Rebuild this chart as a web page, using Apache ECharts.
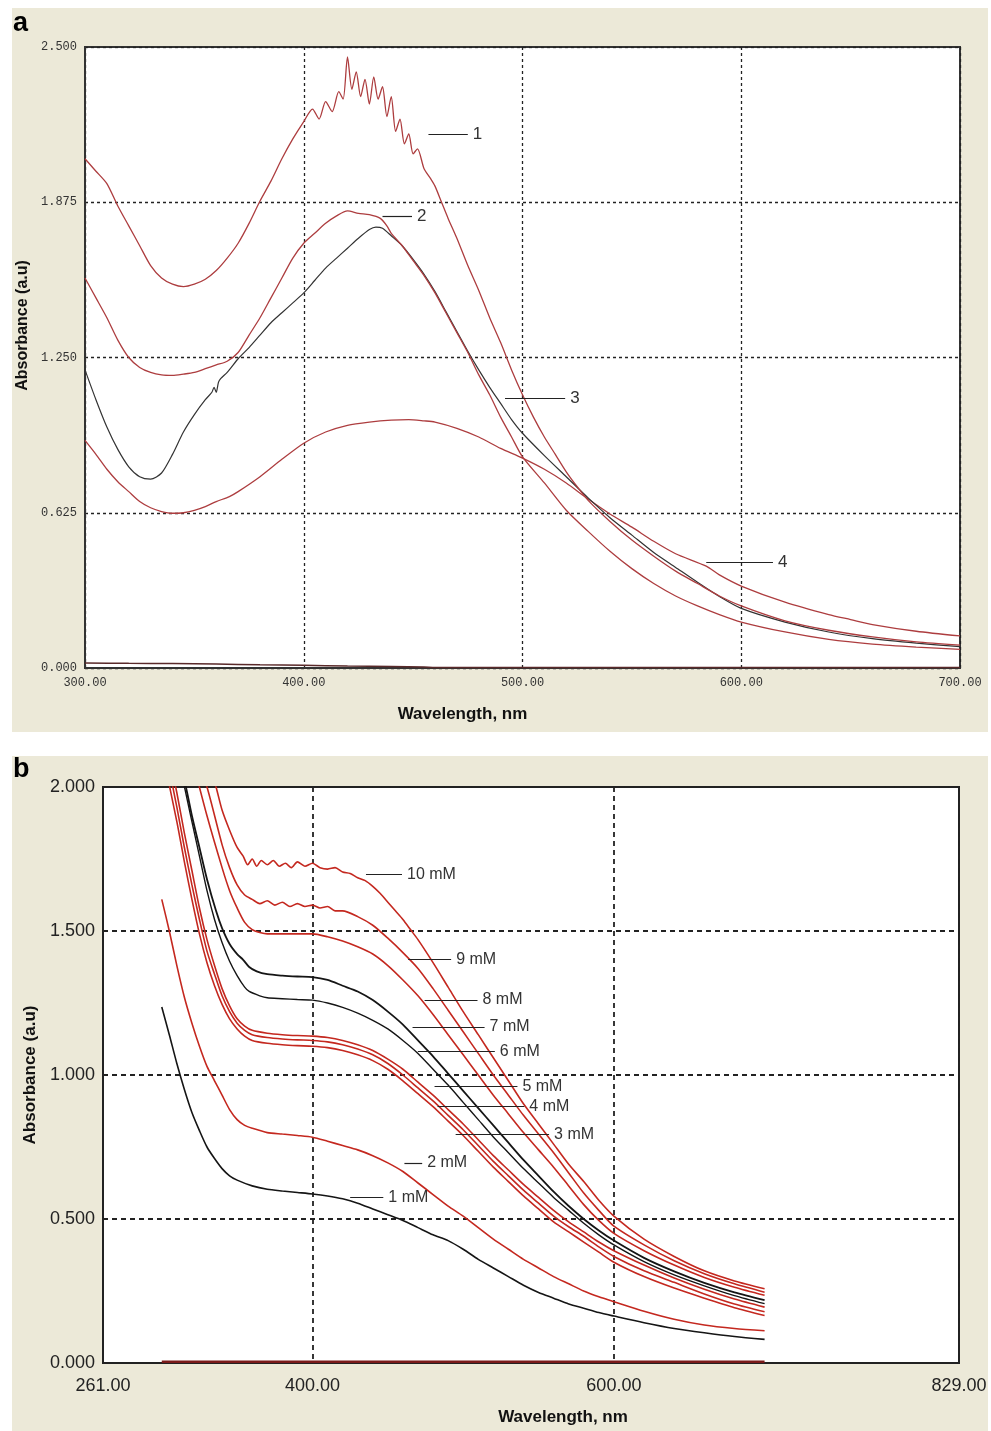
<!DOCTYPE html>
<html>
<head>
<meta charset="utf-8">
<script src="https://cdn.jsdelivr.net/npm/echarts@6.0.0/dist/echarts.min.js"></script>
<style>
  html, body { margin: 0; padding: 0; background: #fff; }
  #chart { width: 991px; height: 1431px; }
</style>
</head>
<body>
<div id="chart"></div>
<script>
// panel a : [wavelength nm, absorbance]
const aCurve1 = [[300,2.05],[305,2.0],[310,1.95],[315,1.86],[320,1.78],[325,1.70],[330,1.62],[335,1.57],[340,1.545],[345,1.535],[350,1.545],[355,1.565],[360,1.60],[365,1.65],[370,1.71],[375,1.79],[380,1.88],[385,1.96],[390,2.05],[395,2.13],[400,2.20],[404,2.25],[407,2.21],[410,2.28],[413,2.24],[416,2.32],[418,2.29],[420,2.46],[422,2.33],[424,2.40],[426,2.30],[428,2.37],[430,2.27],[432,2.38],[434,2.29],[436,2.34],[438,2.22],[440,2.30],[442,2.16],[444,2.21],[446,2.11],[448,2.15],[450,2.07],[452,2.09],[455,2.01],[458,1.97],[460,1.94],[463,1.875],[466,1.81],[470,1.73],[475,1.62],[480,1.52],[485,1.41],[490,1.31],[495,1.20],[500,1.10],[505,1.01],[510,0.93],[515,0.86],[520,0.79],[525,0.73],[530,0.675],[540,0.59],[550,0.515],[560,0.45],[570,0.39],[580,0.34],[590,0.29],[600,0.25],[620,0.19],[640,0.152],[660,0.125],[680,0.105],[700,0.092]];
const aCurve2 = [[300,1.57],[305,1.49],[310,1.41],[315,1.32],[320,1.25],[325,1.21],[330,1.19],[335,1.18],[340,1.178],[345,1.183],[350,1.19],[355,1.205],[360,1.22],[365,1.235],[370,1.27],[375,1.34],[380,1.41],[385,1.49],[390,1.57],[395,1.65],[400,1.71],[405,1.75],[410,1.79],[415,1.82],[420,1.84],[425,1.83],[430,1.825],[435,1.81],[438,1.78],[440,1.75],[445,1.70],[450,1.64],[455,1.58],[460,1.51],[465,1.43],[470,1.35],[475,1.27],[480,1.18],[485,1.10],[490,1.01],[495,0.93],[500,0.85],[510,0.745],[520,0.635],[530,0.55],[540,0.47],[550,0.40],[560,0.34],[570,0.29],[580,0.25],[590,0.215],[600,0.185],[620,0.145],[640,0.115],[660,0.096],[680,0.084],[700,0.075]];
const aCurve3 = [[300,1.20],[305,1.08],[310,0.97],[315,0.88],[320,0.81],[325,0.77],[330,0.76],[335,0.785],[340,0.86],[345,0.95],[350,1.02],[355,1.08],[358,1.11],[359,1.13],[360,1.11],[361,1.15],[362,1.165],[365,1.19],[370,1.245],[375,1.29],[380,1.34],[385,1.39],[390,1.43],[395,1.47],[400,1.51],[405,1.56],[410,1.61],[415,1.65],[420,1.69],[425,1.73],[430,1.765],[433,1.775],[436,1.77],[440,1.74],[445,1.70],[450,1.645],[455,1.585],[460,1.515],[465,1.435],[470,1.355],[475,1.275],[480,1.20],[485,1.13],[490,1.065],[495,1.00],[500,0.945],[510,0.855],[520,0.77],[530,0.685],[540,0.605],[550,0.535],[560,0.465],[570,0.405],[580,0.345],[590,0.288],[600,0.24],[620,0.185],[640,0.145],[660,0.118],[680,0.1],[700,0.086]];
const aCurve4 = [[300,0.916],[305,0.86],[310,0.80],[315,0.75],[320,0.71],[325,0.67],[330,0.645],[335,0.63],[340,0.623],[345,0.625],[350,0.635],[355,0.65],[360,0.67],[366,0.69],[370,0.71],[380,0.77],[390,0.84],[400,0.905],[410,0.95],[420,0.977],[430,0.99],[440,0.998],[448,1.0],[455,0.995],[460,0.99],[470,0.965],[480,0.93],[490,0.884],[500,0.845],[510,0.80],[520,0.745],[530,0.68],[540,0.62],[550,0.567],[560,0.51],[570,0.46],[584,0.41],[590,0.375],[600,0.33],[620,0.265],[640,0.215],[650,0.195],[660,0.175],[680,0.148],[700,0.129]];
const aBase = [[300,0.02],[320,0.019],[340,0.018],[360,0.016],[380,0.013],[400,0.011],[420,0.008],[440,0.006],[455,0.004],[460,0.002],[700,0.002]];

// panel b : one array per concentration
const b10 = [[300,2.7],[310,2.5],[320,2.28],[330,2.1],[336,2.0],[340,1.92],[345,1.85],[350,1.79],[354,1.76],[357,1.73],[360,1.75],[363,1.725],[366,1.745],[370,1.73],[374,1.745],[378,1.725],[382,1.735],[386,1.72],[390,1.74],[395,1.725],[400,1.735],[405,1.72],[410,1.715],[415,1.72],[420,1.705],[425,1.70],[430,1.685],[435,1.675],[440,1.655],[445,1.63],[450,1.60],[455,1.57],[460,1.54],[465,1.505],[470,1.47],[480,1.39],[490,1.305],[500,1.22],[510,1.14],[520,1.06],[530,0.98],[540,0.90],[550,0.83],[560,0.76],[570,0.69],[580,0.63],[590,0.565],[600,0.51],[620,0.43],[640,0.37],[660,0.32],[680,0.285],[700,0.258]];
const b9 = [[300,2.55],[310,2.35],[320,2.15],[330,2.0],[340,1.8],[345,1.72],[350,1.66],[355,1.625],[360,1.61],[365,1.595],[370,1.605],[375,1.59],[380,1.60],[385,1.585],[390,1.595],[395,1.585],[400,1.59],[405,1.58],[410,1.585],[415,1.57],[420,1.57],[430,1.55],[440,1.52],[450,1.475],[460,1.425],[470,1.37],[480,1.30],[490,1.225],[500,1.15],[510,1.075],[520,1.0],[530,0.93],[540,0.86],[550,0.795],[560,0.73],[570,0.66],[580,0.59],[590,0.53],[600,0.475],[620,0.41],[640,0.355],[660,0.31],[680,0.275],[700,0.246]];
const b8 = [[300,2.5],[310,2.3],[320,2.1],[330,1.9],[340,1.72],[345,1.64],[350,1.58],[355,1.53],[360,1.505],[365,1.495],[370,1.49],[380,1.49],[390,1.49],[400,1.49],[410,1.48],[420,1.465],[430,1.445],[440,1.42],[450,1.38],[460,1.33],[470,1.275],[480,1.21],[490,1.14],[500,1.07],[510,1.0],[520,0.93],[530,0.865],[540,0.80],[550,0.74],[560,0.68],[570,0.615],[580,0.55],[590,0.495],[600,0.45],[620,0.39],[640,0.34],[660,0.297],[680,0.263],[700,0.235]];
const b7 = [[300,2.38],[310,2.12],[316,2.0],[320,1.9],[325,1.79],[330,1.68],[336,1.57],[340,1.51],[345,1.455],[350,1.42],[354,1.40],[358,1.375],[363,1.36],[370,1.35],[380,1.345],[390,1.342],[400,1.34],[410,1.33],[420,1.31],[430,1.29],[440,1.26],[450,1.22],[460,1.175],[470,1.12],[480,1.065],[490,1.005],[500,0.945],[510,0.885],[520,0.825],[530,0.765],[540,0.705],[550,0.65],[560,0.595],[570,0.545],[580,0.50],[590,0.46],[600,0.425],[620,0.365],[640,0.318],[660,0.278],[680,0.245],[700,0.218]];
const b6 = [[300,2.32],[310,2.12],[320,1.88],[325,1.76],[330,1.64],[335,1.54],[340,1.46],[345,1.395],[350,1.345],[355,1.305],[358,1.29],[365,1.275],[370,1.268],[380,1.265],[390,1.262],[400,1.26],[410,1.25],[420,1.235],[430,1.215],[440,1.19],[450,1.16],[460,1.12],[470,1.075],[480,1.02],[490,0.965],[500,0.905],[510,0.845],[520,0.785],[530,0.73],[540,0.675],[550,0.625],[560,0.575],[570,0.53],[580,0.485],[590,0.445],[600,0.41],[620,0.352],[640,0.306],[660,0.268],[680,0.234],[700,0.206]];
const b5 = [[300,2.24],[310,1.98],[315,1.84],[320,1.71],[325,1.58],[330,1.47],[335,1.38],[340,1.30],[345,1.24],[350,1.195],[355,1.17],[360,1.155],[370,1.145],[380,1.14],[390,1.137],[400,1.135],[410,1.13],[420,1.12],[430,1.105],[440,1.085],[450,1.055],[460,1.02],[470,0.975],[480,0.93],[490,0.88],[500,0.83],[510,0.775],[520,0.72],[530,0.67],[540,0.62],[550,0.575],[560,0.53],[570,0.49],[580,0.455],[590,0.42],[600,0.39],[620,0.34],[640,0.295],[660,0.256],[680,0.222],[700,0.194]];
const b4 = [[300,2.19],[310,1.93],[315,1.79],[320,1.66],[325,1.54],[330,1.43],[335,1.35],[340,1.275],[345,1.22],[350,1.18],[355,1.155],[360,1.14],[370,1.13],[380,1.125],[390,1.122],[400,1.12],[410,1.115],[420,1.105],[430,1.09],[440,1.07],[450,1.04],[460,1.0],[470,0.955],[480,0.91],[490,0.86],[500,0.81],[510,0.755],[520,0.70],[530,0.65],[540,0.60],[550,0.555],[560,0.51],[570,0.473],[580,0.44],[590,0.403],[600,0.37],[620,0.32],[640,0.28],[660,0.24],[680,0.205],[700,0.178]];
const b3 = [[300,2.13],[310,1.88],[315,1.74],[320,1.61],[325,1.49],[330,1.39],[335,1.31],[340,1.245],[345,1.195],[350,1.16],[355,1.135],[360,1.12],[370,1.11],[380,1.105],[390,1.102],[400,1.10],[410,1.095],[420,1.085],[430,1.07],[440,1.05],[450,1.02],[460,0.98],[470,0.935],[480,0.89],[490,0.84],[500,0.79],[510,0.735],[520,0.68],[530,0.63],[540,0.58],[550,0.535],[560,0.49],[570,0.455],[580,0.42],[590,0.385],[600,0.35],[620,0.30],[640,0.26],[660,0.225],[680,0.192],[700,0.165]];
const b2 = [[300,1.61],[305,1.50],[310,1.38],[315,1.27],[320,1.18],[325,1.10],[330,1.03],[335,0.98],[340,0.93],[345,0.88],[350,0.845],[355,0.825],[360,0.815],[370,0.80],[380,0.795],[390,0.79],[400,0.784],[410,0.77],[420,0.755],[430,0.74],[440,0.72],[450,0.695],[460,0.665],[470,0.625],[480,0.585],[490,0.545],[500,0.51],[510,0.47],[520,0.43],[530,0.395],[540,0.36],[550,0.33],[560,0.30],[570,0.275],[580,0.25],[590,0.23],[600,0.213],[620,0.18],[640,0.152],[660,0.132],[680,0.12],[700,0.112]];
const b1 = [[300,1.236],[305,1.14],[310,1.04],[315,0.95],[320,0.87],[325,0.807],[330,0.75],[335,0.71],[340,0.675],[345,0.65],[350,0.635],[360,0.615],[370,0.603],[380,0.597],[390,0.592],[400,0.587],[410,0.58],[420,0.57],[430,0.555],[440,0.535],[450,0.515],[460,0.495],[470,0.47],[480,0.445],[490,0.425],[500,0.395],[510,0.36],[520,0.33],[530,0.30],[540,0.27],[550,0.245],[560,0.225],[570,0.205],[580,0.19],[590,0.175],[600,0.163],[620,0.14],[640,0.12],[660,0.105],[680,0.092],[700,0.082]];
const bBase = [[300,0.004],[700,0.004]];

// tick labels
const aXTicks = [300, 400, 500, 600, 700];
const bXTicks = [261, 400, 600, 829];

// curve tags with leader lines (start nm, end nm, absorbance)
const aTags = ['1', '2', '3', '4'];
const aTagFrom = [457, 436, 492, 584];
const aTagTo = [475, 449.5, 519.5, 614.5];
const aTagAt = [2.15, 1.817, 1.085, 0.426];
const bTags = ['10 mM', '9 mM', '8 mM', '7 mM', '6 mM', '5 mM', '4 mM', '3 mM', '2 mM', '1 mM'];
const bTagFrom = [435.5, 463.5, 474.4, 466.4, 469.9, 481, 483, 495, 461, 425];
const bTagTo = [459.4, 492, 509.5, 514.2, 521, 536, 540.6, 557, 472.8, 447];
const bTagAt = [1.697, 1.402, 1.261, 1.167, 1.083, 0.96, 0.89, 0.793, 0.695, 0.574];

const chart = echarts.init(document.getElementById('chart'));

const RED_A = '#ad3d3f', BLACK_A = '#333';
const RED_B = '#c4281f', BLACK_B = '#151515';
const monoFont = 'Liberation Mono, DejaVu Sans Mono, monospace';
const sansFont = 'Liberation Sans, Arial, sans-serif';

function curve(data, color, width, idx) {
  return {
    type: 'line', data: data, xAxisIndex: idx, yAxisIndex: idx,
    symbol: 'none', smooth: 0.25, silent: true,
    lineStyle: { color: color, width: width }, itemStyle: { color: color },
    emphasis: { disabled: true }
  };
}

function tags(names, from, to, at, idx, size) {
  return {
    type: 'line', data: [], xAxisIndex: idx, yAxisIndex: idx, silent: true,
    markLine: {
      silent: true, animation: false, symbol: ['none', 'none'],
      lineStyle: { color: '#222', width: 1.2, type: 'solid' },
      label: { show: true, position: 'end', formatter: '{b}', color: '#333', fontSize: size, fontFamily: sansFont, distance: 5 },
      emphasis: { disabled: true },
      data: names.map((n, i) => [{ name: n, coord: [from[i], at[i]] }, { coord: [to[i], at[i]] }])
    }
  };
}

const gridLine = (dash, w) => ({ show: true, lineStyle: { color: '#222', type: dash, width: w } });

const option = {
  animation: false,
  backgroundColor: '#fff',
  graphic: [
    { type: 'rect', z: -100, shape: { x: 12, y: 8, width: 976, height: 724 }, style: { fill: '#ECE9D8' } },
    { type: 'rect', z: -100, shape: { x: 12, y: 756, width: 976, height: 675 }, style: { fill: '#ECE9D8' } },
    { type: 'text', left: 13, top: 10, style: { text: 'a', font: 'bold 27px Liberation Sans, Arial, sans-serif', fill: '#000' } },
    { type: 'text', left: 13, top: 756, style: { text: 'b', font: 'bold 27px Liberation Sans, Arial, sans-serif', fill: '#000' } }
  ],
  grid: [
    { left: 85, top: 47, width: 875, height: 621, show: true, backgroundColor: '#fff', borderColor: '#333', borderWidth: 2 },
    { left: 103, top: 787, width: 856, height: 576, show: true, backgroundColor: '#fff', borderColor: '#222', borderWidth: 2 }
  ],
  xAxis: [
    {
      gridIndex: 0, type: 'value', min: 300, max: 700, interval: 100,
      axisLine: { show: true, onZero: false, lineStyle: { color: '#333', width: 2 } },
      axisTick: { show: false },
      splitLine: gridLine([3, 3], 1.3),
      axisLabel: { formatter: v => v.toFixed(2), fontFamily: monoFont, fontSize: 12, color: '#333', margin: 9, showMinLabel: true, showMaxLabel: true, customValues: aXTicks },
      name: 'Wavelength, nm', nameLocation: 'middle', nameGap: 38,
      nameTextStyle: { fontWeight: 'bold', fontSize: 17, fontFamily: sansFont, color: '#111', padding: [0, 120, 0, 0] }
    },
    {
      gridIndex: 1, type: 'value', min: 261, max: 829,
      axisLine: { show: true, onZero: false, lineStyle: { color: '#222', width: 2 } },
      axisTick: { show: false, customValues: bXTicks },
      splitLine: gridLine([5, 4], 1.8),
      axisLabel: { formatter: v => v.toFixed(2), fontFamily: sansFont, fontSize: 18, color: '#222', margin: 14, showMinLabel: true, showMaxLabel: true, customValues: bXTicks },
      name: 'Wavelength, nm', nameLocation: 'middle', nameGap: 46,
      nameTextStyle: { fontWeight: 'bold', fontSize: 17, fontFamily: sansFont, color: '#111', padding: [0, 0, 0, 64] }
    }
  ],
  yAxis: [
    {
      gridIndex: 0, type: 'value', min: 0, max: 2.5, interval: 0.625,
      axisLine: { show: true, onZero: false, lineStyle: { color: '#333', width: 2 } },
      axisTick: { show: false },
      splitLine: gridLine([3, 3], 1.3),
      axisLabel: { formatter: v => v.toFixed(3), fontFamily: monoFont, fontSize: 12, color: '#333', margin: 8, showMinLabel: true, showMaxLabel: true },
      name: 'Absorbance (a.u)', nameLocation: 'middle', nameGap: 47, nameRotate: 90,
      nameTextStyle: { fontWeight: 'bold', fontSize: 16, fontFamily: sansFont, color: '#111', padding: [0, 0, 0, 64] }
    },
    {
      gridIndex: 1, type: 'value', min: 0, max: 2, interval: 0.5,
      axisLine: { show: true, onZero: false, lineStyle: { color: '#222', width: 2 } },
      axisTick: { show: false },
      splitLine: gridLine([5, 4], 1.8),
      axisLabel: { formatter: v => v.toFixed(3), fontFamily: sansFont, fontSize: 18, color: '#222', margin: 8, showMinLabel: true, showMaxLabel: true },
      name: 'Absorbance (a.u)', nameLocation: 'middle', nameGap: 62, nameRotate: 90,
      nameTextStyle: { fontWeight: 'bold', fontSize: 17, fontFamily: sansFont, color: '#111' }
    }
  ],
  series: [
    curve(aBase, '#5a2a2a', 1.5, 0),
    curve(aCurve4, RED_A, 1.3, 0),
    curve(aCurve3, BLACK_A, 1.2, 0),
    curve(aCurve2, RED_A, 1.3, 0),
    curve(aCurve1, RED_A, 1.3, 0),
    tags(aTags, aTagFrom, aTagTo, aTagAt, 0, 17),
    curve(bBase, '#7a1a1a', 2.5, 1),
    curve(b1, BLACK_B, 1.6, 1),
    curve(b2, RED_B, 1.6, 1),
    curve(b3, RED_B, 1.6, 1),
    curve(b4, RED_B, 1.6, 1),
    curve(b5, RED_B, 1.6, 1),
    curve(b6, BLACK_B, 1.4, 1),
    curve(b7, BLACK_B, 1.8, 1),
    curve(b8, RED_B, 1.6, 1),
    curve(b9, RED_B, 1.6, 1),
    curve(b10, RED_B, 1.6, 1),
    tags(bTags, bTagFrom, bTagTo, bTagAt, 1, 16)
  ]
};

chart.setOption(option);
</script>
</body>
</html>
